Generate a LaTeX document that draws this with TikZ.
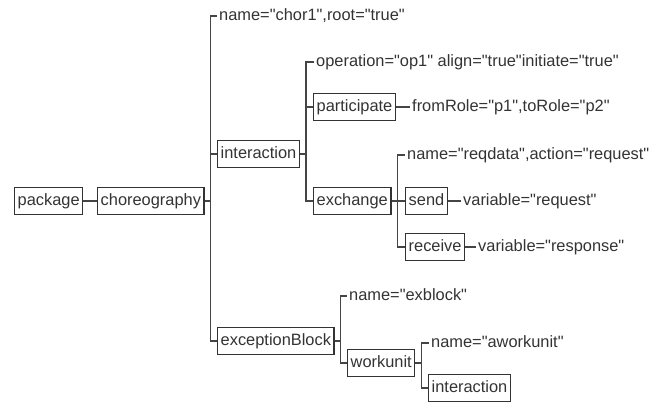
\documentclass[tikz,border=0pt]{standalone}
\usepackage{fontspec}
\setmainfont{Liberation Sans}[Ligatures=TeXOff]
\definecolor{ink}{HTML}{333333}
\definecolor{wire}{HTML}{454545}
\begin{document}
\begin{tikzpicture}[x=1bp,y=-1bp,
  every node/.style={font=\fontsize{16.4bp}{19bp}\selectfont, text=ink,
    text height=12bp, text depth=3.5bp, anchor=west},
  box/.style={draw=ink, line width=1.4bp, inner xsep=3bp, inner ysep=0pt,
    minimum height=27bp},
  attr/.style={inner xsep=2bp, inner ysep=0pt},
  link/.style={draw=wire, line width=1.3bp}]
\useasboundingbox (0,0) rectangle (663,403);

% element boxes
\node[box] (pkg)    at (14,201)  {package};
\node[box] (chor)   at (97,201)  {choreography};
\node[box] (inter)  at (217,154) {interaction};
\node[box] (part)   at (313,107) {participate};
\node[box] (exch)   at (313,201) {exchange};
\node[box] (send)   at (405,201) {send};
\node[box] (recv)   at (405,247) {receive};
\node[box] (exb)    at (217,341) {exceptionBlock};
\node[box] (wu)     at (347,363) {workunit};
\node[box] (inter2) at (428,388) {interaction};

% attribute texts
\node[attr] (chorA) at (217,16)  {name="chor1",root="true"};
\node[attr] (opA)   at (314,62)  {operation="op1" align="true"initiate="true"};
\node[attr] (partA) at (410,107) {fromRole="p1",toRole="p2"};
\node[attr] (exchA) at (405,155) {name="reqdata",action="request"};
\node[attr] (sendA) at (461,201) {variable="request"};
\node[attr] (recvA) at (476,247) {variable="response"};
\node[attr] (exbA)  at (347,296) {name="exblock"};
\node[attr] (wuA)   at (429,343) {name="aworkunit"};

% single links
\draw[link] (pkg.east)  -- (chor.west);
\draw[link] (part.east) -- (partA.west);
\draw[link] (send.east) -- (sendA.west);
\draw[link] (recv.east) -- (recvA.west);

% bracket links: parent -> bus -> child
\foreach \p/\c in {chor/chorA, chor/inter, chor/exb,
                   inter/opA, inter/part, inter/exch,
                   exch/exchA, exch/send, exch/recv,
                   exb/exbA, exb/wu,
                   wu/wuA, wu/inter2}
  \draw[link] (\p.east) -- ++(6,0) |- (\c.west);
\end{tikzpicture}
\end{document}
